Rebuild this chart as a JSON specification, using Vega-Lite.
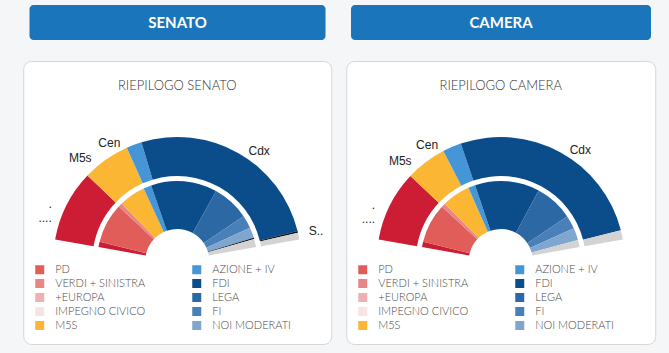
{
  "$schema": "https://vega.github.io/schema/vega-lite/v6.json",
  "background": "#f4f6f7",
  "padding": {"left": 22, "top": 5, "right": 13, "bottom": 8},
  "config": {
    "font": "Lato, sans-serif",
    "view": {"stroke": null},
    "title": {"font": "Lato, sans-serif", "fontSize": 13, "fontWeight": 300, "color": "#333333", "anchor": "middle"}
  },
  "datasets": {
    "senato_seggi": [
      {"coalizione": "Csx", "seggi": 42, "etichetta": ".\n...."},
      {"coalizione": "M5s", "seggi": 28, "etichetta": "M5s"},
      {"coalizione": "Cen", "seggi": 9, "etichetta": "Cen"},
      {"coalizione": "Cdx", "seggi": 116, "etichetta": "Cdx"},
      {"coalizione": "SCN", "seggi": 1, "etichetta": "S.."},
      {"coalizione": "Altri", "seggi": 4, "etichetta": ""}
    ],
    "senato_voti": [
      {"lista": "Csx", "voti": 2.5},
      {"lista": "PD", "voti": 18.1},
      {"lista": "VERDI + SINISTRA", "voti": 1.9},
      {"lista": "+EUROPA", "voti": 0},
      {"lista": "IMPEGNO CIVICO", "voti": 0},
      {"lista": "M5S", "voti": 12},
      {"lista": "AZIONE + IV", "voti": 3.6},
      {"lista": "FDI", "voti": 30},
      {"lista": "LEGA", "voti": 16.9},
      {"lista": "FI", "voti": 5.9},
      {"lista": "NOI MODERATI", "voti": 4.75},
      {"lista": "SCN", "voti": 0.6},
      {"lista": "Altri", "voti": 3.75}
    ],
    "camera_seggi": [
      {"coalizione": "Csx", "seggi": 83, "etichetta": ".\n...."},
      {"coalizione": "M5s", "seggi": 48, "etichetta": "M5s"},
      {"coalizione": "Cen", "seggi": 22, "etichetta": "Cen"},
      {"coalizione": "Cdx", "seggi": 236, "etichetta": "Cdx"},
      {"coalizione": "Altri", "seggi": 11, "etichetta": ""}
    ],
    "camera_voti": [
      {"lista": "Csx", "voti": 2.5},
      {"lista": "PD", "voti": 17.9},
      {"lista": "VERDI + SINISTRA", "voti": 1.9},
      {"lista": "+EUROPA", "voti": 0},
      {"lista": "IMPEGNO CIVICO", "voti": 0},
      {"lista": "M5S", "voti": 12.8},
      {"lista": "AZIONE + IV", "voti": 3.2},
      {"lista": "FDI", "voti": 29.4},
      {"lista": "LEGA", "voti": 17.4},
      {"lista": "FI", "voti": 6.1},
      {"lista": "NOI MODERATI", "voti": 5.5},
      {"lista": "Altri", "voti": 3.3}
    ]
  },
  "spacing": 13,
  "resolve": {"scale": {"color": "independent", "theta": "independent"}, "legend": {"color": "independent"}},
  "hconcat": [
    {
      "spacing": 20,
      "center": true,
      "resolve": {"scale": {"color": "independent", "theta": "independent"}, "legend": {"color": "independent"}},
      "vconcat": [
        {
          "width": 296, "height": 35,
          "view": {"fill": "#1b75bb", "stroke": null, "cornerRadius": 4},
          "data": {"values": [{"ramo": "SENATO"}]},
          "mark": {"type": "text", "color": "white", "fontSize": 15, "fontWeight": "bold", "font": "Lato, sans-serif"},
          "encoding": {"text": {"field": "ramo", "type": "nominal"}}
        },
        {
          "width": 308, "height": 283,
          "view": {"fill": "white", "stroke": "#d6d6d6", "cornerRadius": 8},
          "title": {"text": "RIEPILOGO SENATO", "offset": -42, "baseline": "alphabetic"},
          "resolve": {"scale": {"theta": "independent"}},
          "layer": [
            {
              "data": {"name": "senato_seggi"},
              "transform": [{"window": [{"op": "row_number", "as": "ordine"}]}],
              "mark": {"type": "arc", "radius": 124, "radius2": 85, "yOffset": 58.5},
              "encoding": {
                "theta": {"field": "seggi", "type": "quantitative", "stack": true, "scale": {"domain": [0, 200], "range": [-1.3963, 1.3963]}},
                "order": {"field": "ordine", "type": "quantitative"},
                "color": {"field": "coalizione", "type": "nominal",
                  "scale": {"domain": ["PD","VERDI + SINISTRA","+EUROPA","IMPEGNO CIVICO","M5S","AZIONE + IV","FDI","LEGA","FI","NOI MODERATI","Csx","M5s","Cen","Cdx","SCN","Altri"],
                            "range": ["#e05d5a","#e88686","#eeb0b0","#f6e3e3","#fbb634","#4596d6","#0b4d8b","#2c68a4","#4a80b9","#7fa6ce","#cc1d35","#fbb634","#4596d6","#0b4d8b","#111111","#d3d3d3"]}}
              }
            },
            {
              "data": {"name": "senato_voti"},
              "transform": [{"window": [{"op": "row_number", "as": "ordine"}]}],
              "mark": {"type": "arc", "radius": 80, "radius2": 32, "yOffset": 58.5},
              "encoding": {
                "theta": {"field": "voti", "type": "quantitative", "stack": true, "scale": {"domain": [0, 100], "range": [-1.3963, 1.3963]}},
                "order": {"field": "ordine", "type": "quantitative"},
                "color": {"field": "lista", "type": "nominal",
                  "scale": {"domain": ["PD","VERDI + SINISTRA","+EUROPA","IMPEGNO CIVICO","M5S","AZIONE + IV","FDI","LEGA","FI","NOI MODERATI","Csx","M5s","Cen","Cdx","SCN","Altri"],
                            "range": ["#e05d5a","#e88686","#eeb0b0","#f6e3e3","#fbb634","#4596d6","#0b4d8b","#2c68a4","#4a80b9","#7fa6ce","#cc1d35","#fbb634","#4596d6","#0b4d8b","#111111","#d3d3d3"]},
                  "legend": {
                    "values": ["PD","VERDI + SINISTRA","+EUROPA","IMPEGNO CIVICO","M5S","AZIONE + IV","FDI","LEGA","FI","NOI MODERATI"],
                    "title": null, "orient": "none", "legendX": 11, "legendY": 203,
                    "columns": 2, "columnPadding": 46, "rowPadding": 2, "padding": 0,
                    "symbolType": "square", "symbolSize": 81, "symbolStrokeWidth": 0, "labelOffset": 10,
                    "labelFont": "Lato, sans-serif", "labelFontSize": 11, "labelFontWeight": 300, "labelColor": "#4a4a4a"
                  }}
              }
            },
            {
              "data": {"name": "senato_seggi"},
              "transform": [{"window": [{"op": "row_number", "as": "ordine"}]}],
              "mark": {"type": "text", "radius": 126, "yOffset": 58.5, "font": "Liberation Sans, sans-serif", "fontSize": 12, "color": "#222222", "lineBreak": "\n",
                "align": {"expr": "datum.seggi_start + datum.seggi_end > 200 ? 'left' : 'right'"},
                "dx": {"expr": "datum.seggi_start + datum.seggi_end > 200 ? 9 : -13"}},
              "encoding": {
                "theta": {"field": "seggi", "type": "quantitative", "stack": true, "scale": {"domain": [0, 200], "range": [-1.3963, 1.3963]}},
                "order": {"field": "ordine", "type": "quantitative"},
                "detail": {"field": "coalizione", "type": "nominal"},
                "text": {"field": "etichetta", "type": "nominal"}
              }
            }
          ]
        }
      ]
    },
    {
      "spacing": 20,
      "center": true,
      "resolve": {"scale": {"color": "independent", "theta": "independent"}, "legend": {"color": "independent"}},
      "vconcat": [
        {
          "width": 300, "height": 35,
          "view": {"fill": "#1b75bb", "stroke": null, "cornerRadius": 4},
          "data": {"values": [{"ramo": "CAMERA"}]},
          "mark": {"type": "text", "color": "white", "fontSize": 15, "fontWeight": "bold", "font": "Lato, sans-serif"},
          "encoding": {"text": {"field": "ramo", "type": "nominal"}}
        },
        {
          "width": 309, "height": 283,
          "view": {"fill": "white", "stroke": "#d6d6d6", "cornerRadius": 8},
          "title": {"text": "RIEPILOGO CAMERA", "offset": -42, "baseline": "alphabetic"},
          "resolve": {"scale": {"theta": "independent"}},
          "layer": [
            {
              "data": {"name": "camera_seggi"},
              "transform": [{"window": [{"op": "row_number", "as": "ordine"}]}],
              "mark": {"type": "arc", "radius": 124, "radius2": 85, "yOffset": 58.5},
              "encoding": {
                "theta": {"field": "seggi", "type": "quantitative", "stack": true, "scale": {"domain": [0, 400], "range": [-1.3963, 1.3963]}},
                "order": {"field": "ordine", "type": "quantitative"},
                "color": {"field": "coalizione", "type": "nominal",
                  "scale": {"domain": ["PD","VERDI + SINISTRA","+EUROPA","IMPEGNO CIVICO","M5S","AZIONE + IV","FDI","LEGA","FI","NOI MODERATI","Csx","M5s","Cen","Cdx","SCN","Altri"],
                            "range": ["#e05d5a","#e88686","#eeb0b0","#f6e3e3","#fbb634","#4596d6","#0b4d8b","#2c68a4","#4a80b9","#7fa6ce","#cc1d35","#fbb634","#4596d6","#0b4d8b","#111111","#d3d3d3"]}}
              }
            },
            {
              "data": {"name": "camera_voti"},
              "transform": [{"window": [{"op": "row_number", "as": "ordine"}]}],
              "mark": {"type": "arc", "radius": 80, "radius2": 32, "yOffset": 58.5},
              "encoding": {
                "theta": {"field": "voti", "type": "quantitative", "stack": true, "scale": {"domain": [0, 100], "range": [-1.3963, 1.3963]}},
                "order": {"field": "ordine", "type": "quantitative"},
                "color": {"field": "lista", "type": "nominal",
                  "scale": {"domain": ["PD","VERDI + SINISTRA","+EUROPA","IMPEGNO CIVICO","M5S","AZIONE + IV","FDI","LEGA","FI","NOI MODERATI","Csx","M5s","Cen","Cdx","SCN","Altri"],
                            "range": ["#e05d5a","#e88686","#eeb0b0","#f6e3e3","#fbb634","#4596d6","#0b4d8b","#2c68a4","#4a80b9","#7fa6ce","#cc1d35","#fbb634","#4596d6","#0b4d8b","#111111","#d3d3d3"]},
                  "legend": {
                    "values": ["PD","VERDI + SINISTRA","+EUROPA","IMPEGNO CIVICO","M5S","AZIONE + IV","FDI","LEGA","FI","NOI MODERATI"],
                    "title": null, "orient": "none", "legendX": 11, "legendY": 203,
                    "columns": 2, "columnPadding": 46, "rowPadding": 2, "padding": 0,
                    "symbolType": "square", "symbolSize": 81, "symbolStrokeWidth": 0, "labelOffset": 10,
                    "labelFont": "Lato, sans-serif", "labelFontSize": 11, "labelFontWeight": 300, "labelColor": "#4a4a4a"
                  }}
              }
            },
            {
              "data": {"name": "camera_seggi"},
              "transform": [{"window": [{"op": "row_number", "as": "ordine"}]}],
              "mark": {"type": "text", "radius": 126, "yOffset": 58.5, "font": "Liberation Sans, sans-serif", "fontSize": 12, "color": "#222222", "lineBreak": "\n",
                "align": {"expr": "datum.seggi_start + datum.seggi_end > 400 ? 'left' : 'right'"},
                "dx": {"expr": "datum.seggi_start + datum.seggi_end > 400 ? 9 : -13"}},
              "encoding": {
                "theta": {"field": "seggi", "type": "quantitative", "stack": true, "scale": {"domain": [0, 400], "range": [-1.3963, 1.3963]}},
                "order": {"field": "ordine", "type": "quantitative"},
                "detail": {"field": "coalizione", "type": "nominal"},
                "text": {"field": "etichetta", "type": "nominal"}
              }
            }
          ]
        }
      ]
    }
  ]
}
